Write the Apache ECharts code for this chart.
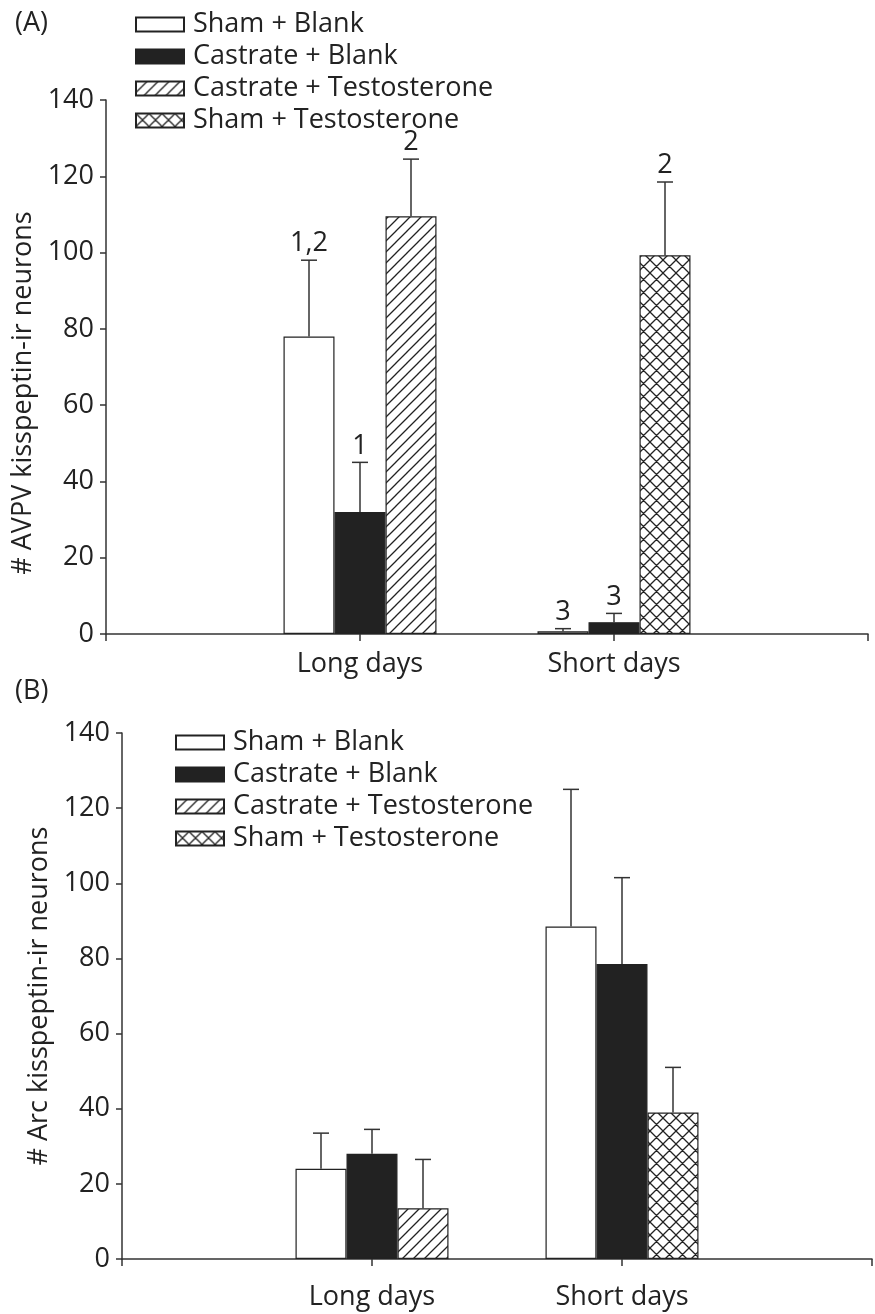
<!DOCTYPE html>
<html>
<head>
<meta charset="utf-8">
<script src="https://cdn.jsdelivr.net/npm/echarts@6/dist/echarts.min.js"></script>
<style>
  html, body { margin: 0; padding: 0; background: #fff; }
  #chart { width: 875px; height: 1314px; }
</style>
</head>
<body>
<div id="chart"></div>
<script>
const groups = ['Sham + Blank', 'Castrate + Blank', 'Castrate + Testosterone', 'Sham + Testosterone'];
const days = ['Long days', 'Short days'];

// (A) AVPV: mean and top of error bar per group, [long, short]; '-' = not tested
const avpvMean = [[78, 0.7], [32, 3.1], [109.5, '-'], ['-', 99.3]];
const avpvUpper = [[98, 1.4], [45, 5.4], [124.5, '-'], ['-', 118.5]];
const avpvSig = [['1,2', '3'], ['1', '3'], ['2', ''], ['', '2']];

// (B) Arc
const arcMean = [[24, 88.5], [28, 78.5], [13.5, '-'], ['-', 39]];
const arcUpper = [[33.5, 125], [34.5, 101.5], [26.5, '-'], ['-', 51]];

const FONT = '"Open Sans", "Noto Sans", sans-serif';
const FS = 27;
const INK = '#222';
const barW = 51;
const slot = [0, 1, 2, 2]; // the two testosterone groups share the third slot

function hatch(size, cross) {
  const c = document.createElement('canvas');
  c.width = c.height = size;
  const g = c.getContext('2d');
  g.fillStyle = '#fff';
  g.fillRect(0, 0, size, size);
  g.strokeStyle = INK;
  g.lineWidth = 1.3;
  g.beginPath();
  g.moveTo(-1, size + 1); g.lineTo(size + 1, -1);
  g.moveTo(-2, 2); g.lineTo(2, -2);
  g.moveTo(size - 2, size + 2); g.lineTo(size + 2, size - 2);
  if (cross) {
    g.moveTo(-1, -1); g.lineTo(size + 1, size + 1);
    g.moveTo(size - 2, -2); g.lineTo(size + 2, 2);
    g.moveTo(-2, size - 2); g.lineTo(2, size + 2);
  }
  g.stroke();
  return c;
}

const fills = ['#fff', INK, { image: hatch(11, false), repeat: 'repeat' }, { image: hatch(13, true), repeat: 'repeat' }];

function barSeries(mean, gi) {
  return groups.map((name, i) => {
    const s = {
      name,
      type: 'bar',
      xAxisIndex: gi,
      yAxisIndex: gi,
      barWidth: barW,
      barGap: '0%',
      data: ['-', ...mean[i], '-'],
      itemStyle: { color: fills[i], borderColor: INK, borderWidth: 1.2 },
      silent: true
    };
    if (i >= 2) s.stack = 'T' + gi;
    return s;
  });
}

function errSeries(mean, upper, sig, gi) {
  const rows = [];
  const texts = [];
  mean.forEach((m, i) => m.forEach((v, d) => {
    if (v === '-') return;
    rows.push([d + 1, v, upper[i][d], slot[i]]);
    texts.push(sig ? sig[i][d] : '');
  }));
  return {
    type: 'custom',
    xAxisIndex: gi,
    yAxisIndex: gi,
    silent: true,
    z: 5,
    data: rows,
    renderItem(params, api) {
      const base = api.coord([api.value(0), api.value(1)]);
      const top = api.coord([api.value(0), api.value(2)]);
      const x = base[0] + (api.value(3) - 1) * barW;
      const ls = { stroke: '#333', lineWidth: 1.5 };
      const children = [
        { type: 'line', shape: { x1: x, y1: base[1], x2: x, y2: top[1] }, style: ls },
        { type: 'line', shape: { x1: x - 8, y1: top[1], x2: x + 8, y2: top[1] }, style: ls }
      ];
      const t = texts[params.dataIndex];
      if (t) {
        children.push({
          type: 'text', x, y: top[1] - 3,
          style: { text: t, align: 'center', verticalAlign: 'bottom', font: FS + 'px ' + FONT, fill: INK }
        });
      }
      return { type: 'group', children };
    }
  };
}

const axisLine = { show: true, lineStyle: { color: '#333', width: 1.5 } };

function xAxis(gi, margin) {
  return {
    type: 'category', gridIndex: gi, data: ['', ...days, ''], boundaryGap: false,
    axisLine, axisTick: { show: true, length: 7, lineStyle: { color: '#333', width: 1.5 } },
    axisLabel: { interval: 0, fontSize: FS, fontFamily: FONT, color: INK, margin },
    splitLine: { show: false }
  };
}

function yAxis(gi, name, gap, pad) {
  return {
    type: 'value', gridIndex: gi, min: 0, max: 140, interval: 20,
    name, nameLocation: 'middle', nameGap: gap,
    nameTextStyle: { fontSize: FS, fontFamily: FONT, color: INK, padding: pad },
    axisLine, axisTick: { show: true, length: 6, lineStyle: { color: '#333', width: 1.5 } },
    axisLabel: { fontSize: FS, fontFamily: FONT, color: INK, margin: 12 },
    splitLine: { show: false }
  };
}

function legend(left, top) {
  return {
    data: groups, orient: 'vertical', left, top,
    itemWidth: 48, itemHeight: 14, itemGap: 5, icon: 'rect',
    selectedMode: false,
    textStyle: { fontSize: FS, fontFamily: FONT, color: INK, lineHeight: 27, padding: [0, 0, 0, 4] }
  };
}

const chart = echarts.init(document.getElementById('chart'));
chart.setOption({
  animation: false,
  backgroundColor: '#fff',
  title: [
    { text: '(A)', left: 10, top: 5, textStyle: { fontSize: FS, fontWeight: 'normal', fontFamily: FONT, color: INK } },
    { text: '(B)', left: 10, top: 673, textStyle: { fontSize: FS, fontWeight: 'normal', fontFamily: FONT, color: INK } }
  ],
  legend: [legend(130, 6), legend(170, 724)],
  grid: [
    { left: 106, top: 100, width: 762, height: 534 },
    { left: 122, top: 733, width: 762, height: 526 }
  ],
  xAxis: [xAxis(0, 17), xAxis(1, 25)],
  yAxis: [
    yAxis(0, '# AVPV kisspeptin-ir neurons', 63, [0, 52, 0, 0]),
    yAxis(1, '# Arc kisspeptin-ir neurons', 67, 0)
  ],
  series: [
    ...barSeries(avpvMean, 0),
    ...barSeries(arcMean, 1),
    errSeries(avpvMean, avpvUpper, avpvSig, 0),
    errSeries(arcMean, arcUpper, null, 1)
  ]
});
</script>
</body>
</html>
